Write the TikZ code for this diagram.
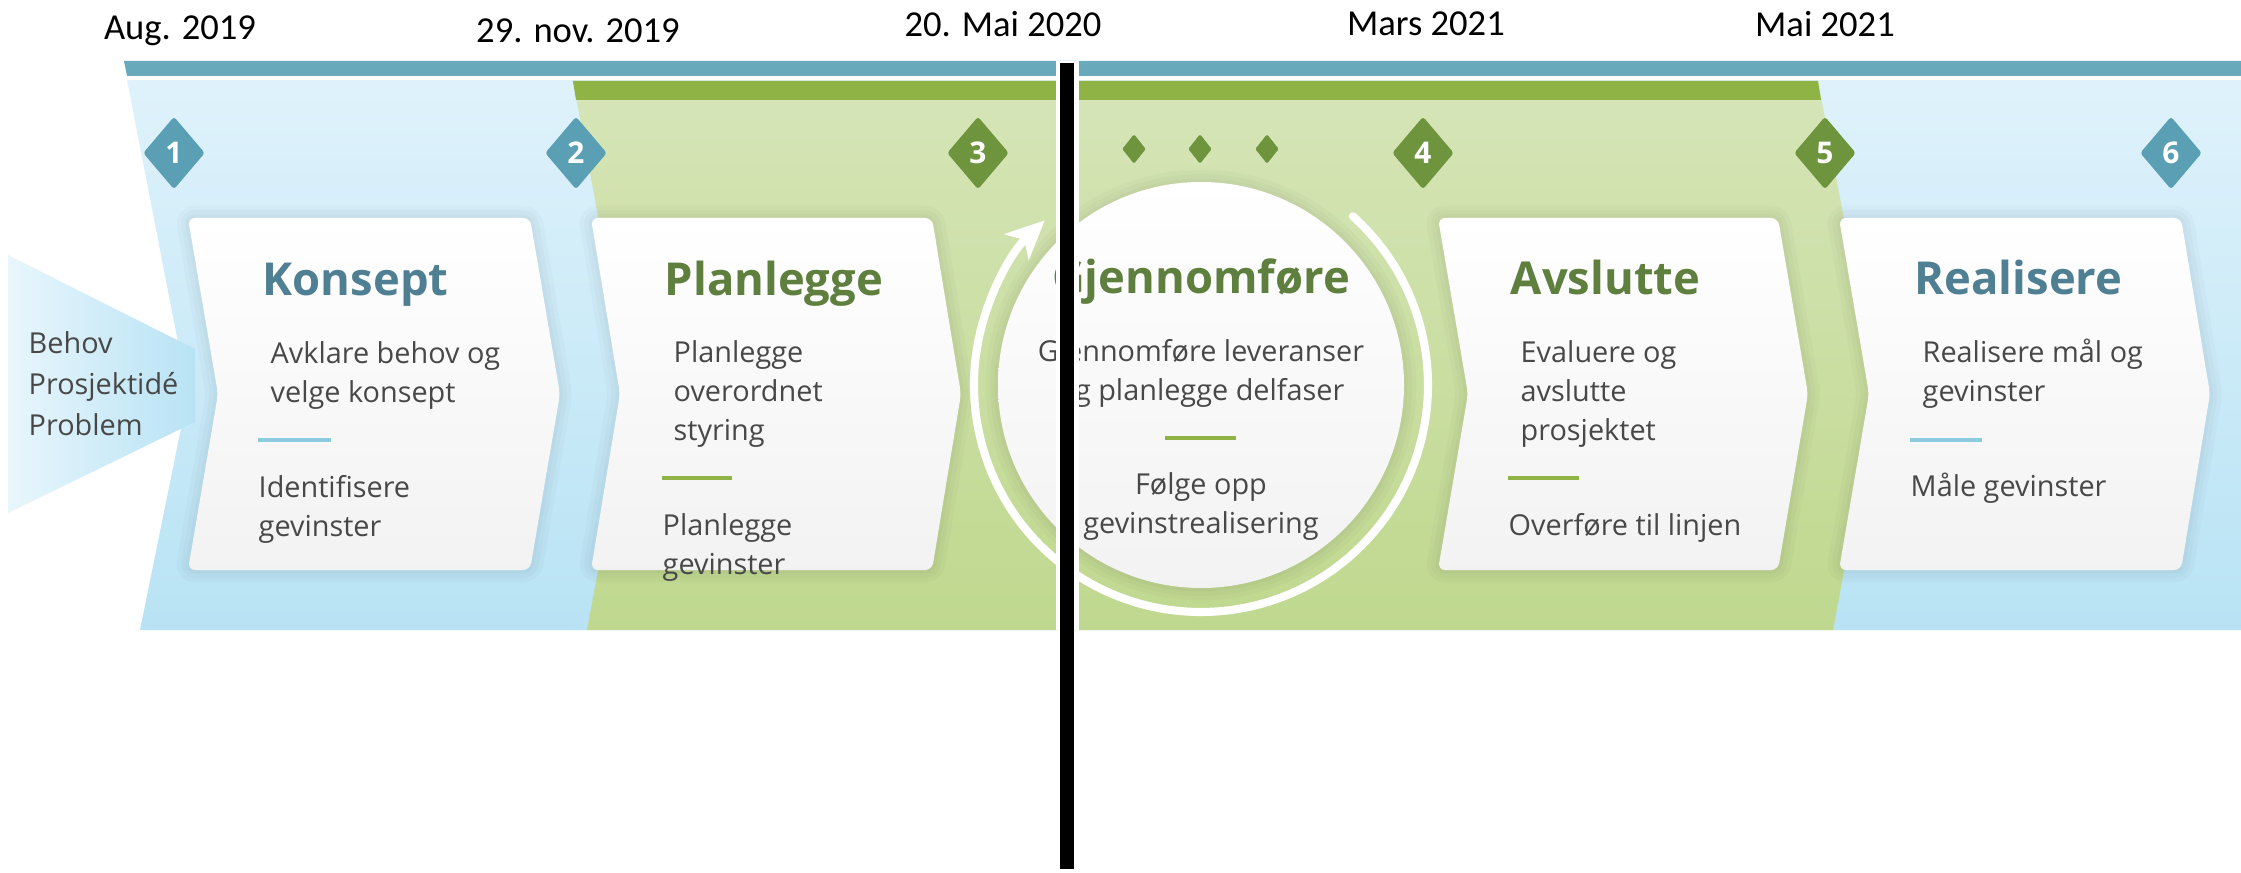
\documentclass[tikz,border=0pt]{standalone}
\usepackage{fontspec}
\usetikzlibrary{shapes.geometric,arrows.meta}
\newfontfamily\cardfont{Open Sans}
\newfontfamily\datefont{Carlito}
\definecolor{teal}{RGB}{104,169,188}
\definecolor{tea}{RGB}{90,159,179}
\definecolor{blutop}{RGB}{223,242,251}
\definecolor{blubot}{RGB}{184,227,244}
\definecolor{greetop}{RGB}{214,229,184}
\definecolor{greebot}{RGB}{191,216,142}
\definecolor{greeo}{RGB}{143,179,68}
\definecolor{gred}{RGB}{110,148,61}
\definecolor{blutxt}{RGB}{79,127,146}
\definecolor{greetxt}{RGB}{95,127,63}
\definecolor{bodytxt}{RGB}{72,72,72}
\definecolor{blurul}{RGB}{140,203,224}
\tikzset{
  halo/.style={preaction={draw=black,opacity=0.02,line width=7pt},
    preaction={draw=black,opacity=0.02,line width=4.5pt},
    preaction={draw=black,opacity=0.02,line width=2pt}},
  card/.style={halo,rounded corners=2pt,top color=white,bottom color=black!5},
  marker/.style={diamond,rounded corners=0.8pt,inner sep=0pt,minimum width=0.62cm,minimum height=0.73cm,text=white,
    font=\cardfont\bfseries\fontsize{8.5}{10}\selectfont},
  dot/.style={diamond,rounded corners=0.4pt,inner sep=0pt,minimum width=0.24cm,minimum height=0.3cm,fill=gred},
  datum/.style={inner sep=0pt,text=black,font=\datefont\fontsize{10.4}{13}\selectfont},
  heading/.style={inner sep=0pt,anchor=base west,font=\cardfont\bfseries\fontsize{12.9}{16}\selectfont},
  body/.style={inner sep=0pt,anchor=north west,align=left,text=bodytxt,
    font=\cardfont\fontsize{8.2}{11.1}\selectfont},
  rule/.style={line width=1.1pt}
}
\begin{document}
\begin{tikzpicture}[x=0.01cm,y=-0.01cm]
\useasboundingbox (0,0) rectangle (2241,873);
\coordinate (A1) at (127,80);
\coordinate (A2) at (2241,80);
\coordinate (A3) at (2241,630);
\coordinate (A4) at (140,630);
\coordinate (A5) at (188,394);
\coordinate (G1) at (573,81);
\coordinate (G2) at (1818,81);
\coordinate (G3) at (1877,394);
\coordinate (G4) at (1833,630);
\coordinate (G5) at (587,630);
\coordinate (G6) at (631,394);
\coordinate (C) at (1201,385);

\fill[teal] (124,61) -- (2241,61) -- (2241,76) -- (127,76) --cycle;
\shade[top color=blutop,bottom color=blubot] (A1) -- (A2) -- (A3) -- (A4) -- (A5) --cycle;
\shade[top color=greetop,bottom color=greebot] (G1) -- (G2) -- (G3) -- (G4) -- (G5) -- (G6) --cycle;
\fill[greeo] (G1) -- (G2) -- (1821,100) -- (576,100) --cycle;
\shade[left color=blutop!70!white,middle color=blutop,right color=blubot] (8,255) -- (195,349) -- (195,422) -- (8,513) --cycle;

\path[card] (188,218) -- (530,218) -- (560,394) -- (530,570) -- (188,570) -- (218,394) --cycle;
\path[card] (591,218) -- (932,218) -- (961,394) -- (932,570) -- (591,570) -- (620,394) --cycle;
\path[card] (1438,218) -- (1778,218) -- (1808,394) -- (1778,570) -- (1438,570) -- (1468,394) --cycle;
\path[card] (1839,218) -- (2181,218) -- (2210,394) -- (2181,570) -- (1839,570) -- (1869,394) --cycle;
\path[card,rounded corners=0pt] (C) circle[radius=203];
\draw[white,line width=2.3pt,line cap=round,-{Stealth[length=11pt,width=10pt,inset=3pt]}] (C) ++(-48:227) arc[start angle=-48,end angle=226.5,radius=227];

\node[marker,fill=tea] (D1) at (174,153) {1};
\node[marker,fill=tea] (D2) at (576,153) {2};
\node[marker,fill=gred] (D3) at (978,153) {3};
\node[marker,fill=gred] (D4) at (1423,153) {4};
\node[marker,fill=gred] (D5) at (1825,153) {5};
\node[marker,fill=tea] (D6) at (2171,153) {6};
\node[dot] (S1) at (1134,149) {};
\node[dot] (S2) at (1200,149) {};
\node[dot] (S3) at (1267,149) {};

\node[body] (inn) at (28,331) {Behov\\[0.5pt]Prosjektidé\\[0.5pt]Problem};

\node[heading,text=blutxt] (T1) at (262,296) {Konsept};
\node[body] (B1) at (270,341) {Avklare behov og\\velge konsept};
\draw[rule,blurul] (258,440) -- (331,440);
\node[body] (E1) at (258,475) {Identifisere\\gevinster};

\node[heading,text=greetxt] (T2) at (664,296) {Planlegge};
\node[body] (B2) at (673,340) {Planlegge\\overordnet\\styring};
\draw[rule,greeo] (662,478) -- (732,478);
\node[body] (E2) at (662,513) {Planlegge\\gevinster};

\node[heading,text=greetxt,anchor=base] (T3) at (1201,294) {Gjennomføre};
\node[body,anchor=north,align=center] (B3) at (1201,339) {Gjennomføre leveranser\\og planlegge delfaser};
\draw[rule,greeo] (1165,438) -- (1236,438);
\node[body,anchor=north,align=center] (E3) at (1201,472) {Følge opp\\gevinstrealisering};

\node[heading,text=greetxt] (T4) at (1510,295) {Avslutte};
\node[body] (B4) at (1520,340) {Evaluere og\\avslutte\\prosjektet};
\draw[rule,greeo] (1508,478) -- (1579,478);
\node[body] (E4) at (1508,513) {Overføre til linjen};

\node[heading,text=blutxt] (T5) at (1914,295) {Realisere};
\node[body] (B5) at (1922,338) {Realisere mål og\\gevinster};
\draw[rule,blurul] (1910,440) -- (1982,440);
\node[body] (E5) at (1910,472) {Måle gevinster};

\fill[white] (1056,61) rectangle (1079,630);
\fill[black] (1060,63) rectangle (1074,869);

\node[datum] (Q1) at (180,31) {Aug. 2019};
\node[datum] (Q2) at (578,31) {29. nov. 2019};
\node[datum] (Q3) at (1003,24) {20. Mai 2020};
\node[datum] (Q4) at (1426,24) {Mars 2021};
\node[datum] (Q5) at (1825,24) {Mai 2021};
\end{tikzpicture}
\end{document}
